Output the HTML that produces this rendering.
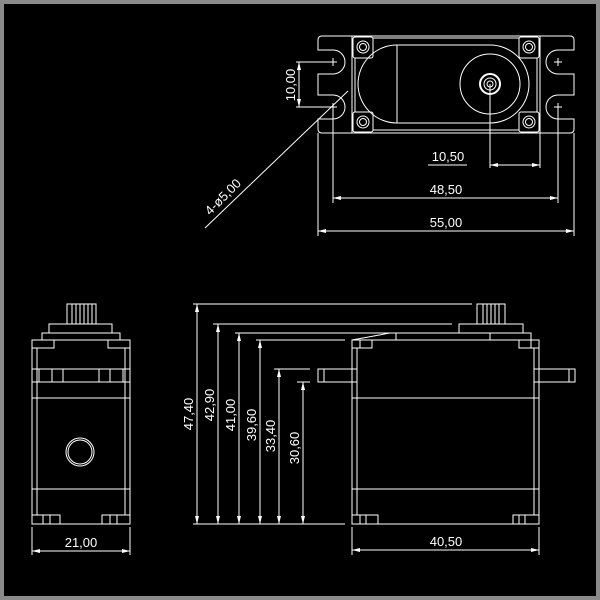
<!DOCTYPE html>
<html><head><style>
html,body{margin:0;padding:0;background:#000;}
svg{display:block;}
text{font-family:"Liberation Sans",sans-serif;font-size:13px;fill:#fff;}
</style></head><body>
<svg width="600" height="600" viewBox="0 0 600 600" xmlns="http://www.w3.org/2000/svg">
<rect x="0" y="0" width="600" height="600" fill="#000"/>
<rect x="2" y="2" width="596" height="596" fill="none" stroke="#8a8a8a" stroke-width="4"/>
<g stroke="#fff" stroke-width="1" fill="none">
<!-- TOP VIEW -->
<path d="M322,36 H570 Q574,36 574,40 V50 H558 A12,12 0 0 0 558,74 H574 V95 H558 A12,12 0 0 0 558,119 H574 V129 Q574,133 570,133 H322 Q318,133 318,129 V119 H333 A12,12 0 0 0 333,95 H318 V74 H333 A12,12 0 0 0 333,50 H318 V40 Q318,36 322,36 Z"/>
<line x1="352" y1="36" x2="352" y2="133"/>
<line x1="540" y1="36" x2="540" y2="133"/>
<rect x="353" y="37" width="20" height="21" rx="2"/>
<rect x="519" y="37" width="20" height="21" rx="2"/>
<rect x="353" y="112" width="20" height="20" rx="2"/>
<rect x="519" y="112" width="20" height="20" rx="2"/>
<circle cx="363" cy="47" r="6"/><circle cx="363" cy="47" r="3.5"/>
<circle cx="529" cy="47" r="6"/><circle cx="529" cy="47" r="3.5"/>
<circle cx="363" cy="122" r="6"/><circle cx="363" cy="122" r="3.5"/>
<circle cx="529" cy="122" r="6"/><circle cx="529" cy="122" r="3.5"/>
<line x1="355" y1="58" x2="355" y2="112"/>
<line x1="537" y1="58" x2="537" y2="112"/>
<line x1="373" y1="38" x2="519" y2="38"/>
<line x1="373" y1="130" x2="519" y2="130"/>
<path d="M397,45 H490 A39,39 0 0 1 490,123 H397 A39,39 0 0 1 397,45 Z"/>
<line x1="397" y1="45" x2="397" y2="123"/>
<circle cx="490" cy="84" r="30"/>
<circle cx="490" cy="84" r="10" stroke-width="2"/>
<circle cx="490" cy="84" r="6"/>
<circle cx="490" cy="84" r="3"/>
<path d="M329,62h8M333,58v8M329,107h8M333,103v8M554,62h8M558,58v8M554,107h8M558,103v8"/>
<!-- dims top -->
<line x1="490" y1="84" x2="490" y2="168"/>
<line x1="540" y1="133" x2="540" y2="168"/>
<line x1="490" y1="165" x2="540" y2="165"/>
<line x1="428" y1="165" x2="467" y2="165"/>
<line x1="333" y1="107" x2="333" y2="203"/>
<line x1="558" y1="107" x2="558" y2="203"/>
<line x1="333" y1="198" x2="558" y2="198"/>
<line x1="318" y1="133" x2="318" y2="236"/>
<line x1="574" y1="133" x2="574" y2="236"/>
<line x1="318" y1="231" x2="574" y2="231"/>
<line x1="296" y1="62" x2="333" y2="62"/>
<line x1="296" y1="107" x2="333" y2="107"/>
<line x1="299" y1="62" x2="299" y2="107"/>
<line x1="205" y1="228" x2="348" y2="91"/>
<!-- SIDE VIEW -->
<rect x="477" y="304" width="28" height="20"/>
<path d="M483,304v20M487,304v20M491,304v20M495,304v20M499,304v20"/>
<rect x="459" y="324" width="64" height="9"/>
<rect x="396" y="333" width="135" height="7"/>
<line x1="490" y1="333" x2="490" y2="340"/>
<rect x="352" y="340" width="187" height="184"/>
<line x1="357" y1="348" x2="357" y2="369"/><line x1="357" y1="382" x2="357" y2="515"/>
<line x1="534" y1="348" x2="534" y2="369"/><line x1="534" y1="382" x2="534" y2="515"/>
<rect x="352" y="340" width="20" height="8"/>
<rect x="519" y="340" width="20" height="8"/>
<rect x="352" y="515" width="26" height="9"/>
<rect x="513" y="515" width="26" height="9"/>
<path d="M360,515v9M366,515v9M519,515v9M525,515v9M360,340v8M531,340v8"/>
<rect x="318" y="369" width="39" height="13"/>
<rect x="534" y="369" width="41" height="13"/>
<line x1="324" y1="369" x2="324" y2="382"/>
<line x1="569" y1="369" x2="569" y2="382"/>
<line x1="352" y1="398" x2="539" y2="398"/>
<line x1="352" y1="489" x2="539" y2="489"/>
<line x1="352" y1="340" x2="390" y2="333"/>
<!-- height dims -->
<line x1="193" y1="304" x2="472" y2="304"/>
<line x1="213" y1="324" x2="452" y2="324"/>
<line x1="235" y1="333" x2="396" y2="333"/>
<line x1="256" y1="340" x2="345" y2="340"/>
<line x1="274" y1="369" x2="310" y2="369"/>
<line x1="297" y1="382" x2="310" y2="382"/>
<line x1="193" y1="524" x2="345" y2="524"/>
<line x1="197" y1="304" x2="197" y2="524"/>
<line x1="218" y1="324" x2="218" y2="524"/>
<line x1="239" y1="333" x2="239" y2="524"/>
<line x1="260" y1="340" x2="260" y2="524"/>
<line x1="279" y1="369" x2="279" y2="524"/>
<line x1="303" y1="382" x2="303" y2="524"/>
<line x1="352" y1="527" x2="352" y2="555"/>
<line x1="539" y1="527" x2="539" y2="555"/>
<line x1="352" y1="550" x2="539" y2="550"/>
<!-- FRONT VIEW -->
<rect x="67" y="304" width="29" height="20"/>
<path d="M72,304v20M76,304v20M80,304v20M84,304v20M88,304v20M92,304v20"/>
<rect x="49" y="324" width="63" height="9"/>
<rect x="42" y="333" width="78" height="7"/>
<rect x="32" y="340" width="98" height="184"/>
<line x1="37" y1="348" x2="37" y2="515"/>
<line x1="125" y1="348" x2="125" y2="515"/>
<rect x="32" y="340" width="22" height="8"/><rect x="108" y="340" width="22" height="8"/>
<rect x="32" y="369" width="98" height="13"/>
<path d="M39,369v13M52,369v13M63,369v13M99,369v13M110,369v13M123,369v13"/>
<line x1="32" y1="398" x2="130" y2="398"/>
<line x1="32" y1="489" x2="130" y2="489"/>
<rect x="32" y="515" width="28" height="9"/><rect x="102" y="515" width="28" height="9"/>
<path d="M43,515v9M50,515v9M110,515v9M117,515v9"/>
<circle cx="80" cy="452" r="14"/>
<circle cx="80" cy="452" r="12"/>
<line x1="32" y1="527" x2="32" y2="555"/>
<line x1="130" y1="527" x2="130" y2="555"/>
<line x1="32" y1="551" x2="130" y2="551"/>
</g>
<g fill="#fff">
<path d="M490,165l8,-2v4zM540,165l-8,-2v4zM333,198l8,-2v4zM558,198l-8,-2v4zM318,231l8,-2v4zM574,231l-8,-2v4zM299,62l-2,8h4zM299,107l-2,-8h4z"/>
<path d="M197,304l-2,8h4zM197,524l-2,-8h4zM218,324l-2,8h4zM218,524l-2,-8h4zM239,333l-2,8h4zM239,524l-2,-8h4zM260,340l-2,8h4zM260,524l-2,-8h4zM279,369l-2,8h4zM279,524l-2,-8h4zM303,382l-2,8h4zM303,524l-2,-8h4z"/>
<path d="M352,550l8,-2v4zM539,550l-8,-2v4zM32,551l8,-2v4zM130,551l-8,-2v4z"/>
</g>
<text x="448" y="161" text-anchor="middle">10,50</text>
<text x="446" y="194" text-anchor="middle">48,50</text>
<text x="446" y="227" text-anchor="middle">55,00</text>
<text x="446" y="546" text-anchor="middle">40,50</text>
<text x="81" y="547" text-anchor="middle">21,00</text>
<text transform="translate(295,85) rotate(-90)" text-anchor="middle">10,00</text>
<text transform="translate(226,200) rotate(-45)" text-anchor="middle">4-ø5,00</text>
<text transform="translate(193,414) rotate(-90)" text-anchor="middle">47,40</text>
<text transform="translate(214,405) rotate(-90)" text-anchor="middle">42,90</text>
<text transform="translate(235,415) rotate(-90)" text-anchor="middle">41,00</text>
<text transform="translate(256,425) rotate(-90)" text-anchor="middle">39,60</text>
<text transform="translate(275,436) rotate(-90)" text-anchor="middle">33,40</text>
<text transform="translate(299,448) rotate(-90)" text-anchor="middle">30,60</text>
</svg>
</body></html>
